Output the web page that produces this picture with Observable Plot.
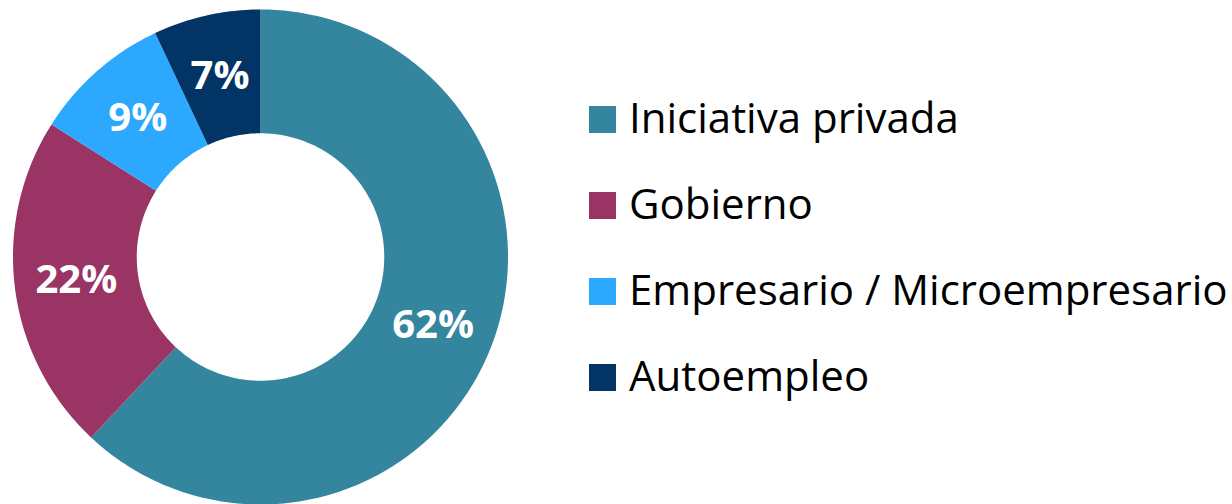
<!DOCTYPE html>
<html>
<head>
<meta charset="utf-8">
<script src="https://cdn.jsdelivr.net/npm/d3@7"></script>
<script src="https://cdn.jsdelivr.net/npm/@observablehq/plot@0.6"></script>
<style>
  html, body { margin: 0; padding: 0; background: #fff; }
  #wrap { position: relative; width: 1232px; height: 504px; overflow: hidden; }
  #chart { position: absolute; left: 0; top: 0; }
  #legend { position: absolute; left: 589px; top: 0; font-family: "Open Sans", sans-serif; }
  .row { position: absolute; left: 0; white-space: nowrap; height: 54px; line-height: 54px; font-size: 42px; color: #000; }
  .sw { position: absolute; left: 0; width: 27px; height: 27px; }
  .lb { position: absolute; left: 40px; top: 0; }
</style>
</head>
<body>
<div id="wrap"><div id="chart"></div><div id="legend"></div></div>
<script>
const categories = ["Iniciativa privada", "Gobierno", "Empresario / Microempresario", "Autoempleo"];
const values = [62, 22, 9, 7];
const labels = ["62%", "22%", "9%", "7%"];
const colors = ["#33869E", "#9A3464", "#2CA9FF", "#033466"];

const inner = 0.5, outer = 1;
const pie = d3.pie().sort(null).value(d => d.value)(categories.map((name, i) => ({name, value: values[i], label: labels[i]})));

const pts = [];
pie.forEach(a => {
  const n = Math.max(4, Math.ceil((a.endAngle - a.startAngle) / (2 * Math.PI) * 400));
  for (let k = 0; k <= n; k++) {
    const t = a.startAngle + (a.endAngle - a.startAngle) * k / n;
    pts.push({name: a.data.name, x: outer * Math.sin(t), y: outer * Math.cos(t)});
  }
  for (let k = n; k >= 0; k--) {
    const t = a.startAngle + (a.endAngle - a.startAngle) * k / n;
    pts.push({name: a.data.name, x: inner * Math.sin(t), y: inner * Math.cos(t)});
  }
});
const cents = pie.map(a => {
  const t = (a.startAngle + a.endAngle) / 2, r = (inner + outer) / 2;
  return {name: a.data.name, label: a.data.label, x: r * Math.sin(t), y: r * Math.cos(t)};
});

const plot = Plot.plot({
  width: 520,
  height: 504,
  marginLeft: 12.5,
  marginRight: 12.5,
  marginTop: 9,
  marginBottom: 0,
  x: {domain: [-1, 1], axis: null},
  y: {domain: [-1, 1], axis: null},
  color: {domain: categories, range: colors},
  style: {background: "transparent"},
  marks: [
    Plot.line(pts, {x: "x", y: "y", z: "name", fill: "name", stroke: null, curve: "linear-closed"}),
    Plot.text(cents, {x: "x", y: "y", text: "label", fill: "white", fontSize: 40, fontWeight: "bold", fontFamily: "Open Sans", textAnchor: "middle", lineAnchor: "middle"})
  ]
});
document.getElementById("chart").appendChild(plot);

const leg = document.getElementById("legend");
categories.forEach((c, i) => {
  const row = document.createElement("div");
  row.className = "row";
  row.style.top = (90 + 86 * i) + "px";
  const sw = document.createElement("div");
  sw.className = "sw";
  sw.style.background = colors[i];
  sw.style.top = "16px";
  const lb = document.createElement("span");
  lb.className = "lb";
  lb.textContent = c;
  row.appendChild(sw);
  row.appendChild(lb);
  leg.appendChild(row);
});
</script>
</body>
</html>
